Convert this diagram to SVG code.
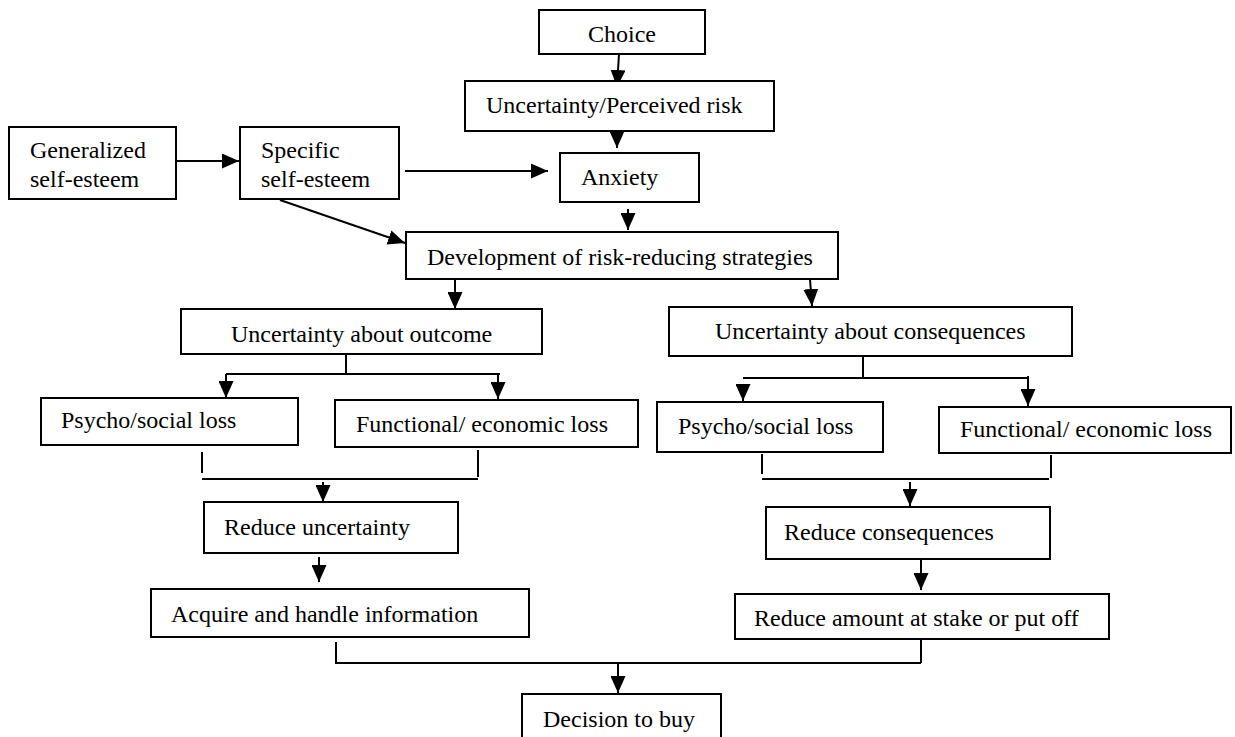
<svg xmlns="http://www.w3.org/2000/svg" width="1235" height="737" viewBox="0 0 1235 737">
<style>
.box{fill:#fff;stroke:#000;stroke-width:2}
.t{font-family:"Liberation Serif","Times New Roman",serif;font-size:24px;fill:#000}
.c{fill:none;stroke:#000;stroke-width:2}
.a{marker-end:url(#ah)}
</style>
<defs>
<marker id="ah" markerUnits="userSpaceOnUse" markerWidth="17" markerHeight="15" refX="17" refY="7.5" orient="auto">
<path d="M0,0 L17,7.5 L0,15 z" fill="#000"/>
</marker>
</defs>
<rect width="1235" height="737" fill="#fff"/>
<g id="connectors">
<line class="c a" x1="619" y1="54" x2="617" y2="87"/>
<line class="c a" x1="617" y1="131" x2="617" y2="148"/>
<line class="c a" x1="174" y1="161" x2="239" y2="161"/>
<line class="c a" x1="405" y1="171" x2="548" y2="171"/>
<line class="c a" x1="280" y1="200" x2="405" y2="243"/>
<line class="c a" x1="628" y1="209" x2="628" y2="230"/>
<line class="c a" x1="455" y1="279" x2="455" y2="309"/>
<line class="c a" x1="810" y1="279" x2="812" y2="306"/>
<polyline class="c" points="346,354 346,374"/>
<polyline class="c" points="226,374 500,374"/>
<line class="c a" x1="226" y1="374" x2="226" y2="398"/>
<line class="c a" x1="498" y1="374" x2="498" y2="399"/>
<polyline class="c" points="863,356 863,378"/>
<polyline class="c" points="743,378 1028,378"/>
<line class="c a" x1="743" y1="386" x2="743" y2="401"/>
<line class="c a" x1="1028" y1="376" x2="1028" y2="406"/>
<polyline class="c" points="202,452 202,473"/>
<polyline class="c" points="478,450 478,477"/>
<polyline class="c" points="202,479 478,479"/>
<line class="c a" x1="323" y1="482" x2="323" y2="502"/>
<polyline class="c" points="762,454 762,474"/>
<polyline class="c" points="1051,455 1051,478"/>
<polyline class="c" points="762,479 1049,479"/>
<line class="c a" x1="910" y1="482" x2="910" y2="506"/>
<line class="c a" x1="319" y1="557" x2="319" y2="582"/>
<line class="c a" x1="921" y1="559" x2="921" y2="590"/>
<polyline class="c" points="336,642 336,664"/>
<polyline class="c" points="921,639 921,663"/>
<polyline class="c" points="336,663 921,663"/>
<line class="c a" x1="618" y1="663" x2="618" y2="693"/>
</g>
<g id="choice"><rect class="box" x="539" y="10" width="166" height="44"/><text class="t" x="622" y="42" text-anchor="middle">Choice</text></g>
<g id="uncertainty"><rect class="box" x="465" y="81" width="309" height="50"/><text class="t" x="486" y="113">Uncertainty/Perceived risk</text></g>
<g id="generalized"><rect class="box" x="9" y="127" width="167" height="72"/><text class="t" x="30" y="158">Generalized</text><text class="t" x="30" y="187">self-esteem</text></g>
<g id="specific"><rect class="box" x="240" y="127" width="159" height="72"/><text class="t" x="261" y="158">Specific</text><text class="t" x="261" y="187">self-esteem</text></g>
<g id="anxiety"><rect class="box" x="560" y="153" width="139" height="49"/><text class="t" x="581" y="185">Anxiety</text></g>
<g id="development"><rect class="box" x="406" y="232" width="432" height="47"/><text class="t" x="427" y="265">Development of risk-reducing strategies</text></g>
<g id="outcome"><rect class="box" x="181" y="309" width="361" height="45"/><text class="t" x="231" y="342">Uncertainty about outcome</text></g>
<g id="consequences"><rect class="box" x="669" y="307" width="403" height="49"/><text class="t" x="715" y="339">Uncertainty about consequences</text></g>
<g id="psycho-left"><rect class="box" x="41" y="398" width="257" height="47"/><text class="t" x="61" y="428">Psycho/social loss</text></g>
<g id="functional-left"><rect class="box" x="335" y="400" width="303" height="47"/><text class="t" x="356" y="432">Functional/ economic loss</text></g>
<g id="psycho-right"><rect class="box" x="657" y="402" width="226" height="50"/><text class="t" x="678" y="434">Psycho/social loss</text></g>
<g id="functional-right"><rect class="box" x="939" y="407" width="292" height="46"/><text class="t" x="960" y="437">Functional/ economic loss</text></g>
<g id="reduce-uncertainty"><rect class="box" x="204" y="502" width="254" height="51"/><text class="t" x="224" y="535">Reduce uncertainty</text></g>
<g id="reduce-consequences"><rect class="box" x="766" y="507" width="284" height="52"/><text class="t" x="784" y="540">Reduce consequences</text></g>
<g id="acquire"><rect class="box" x="151" y="589" width="378" height="48"/><text class="t" x="171" y="622">Acquire and handle information</text></g>
<g id="reduce-amount"><rect class="box" x="735" y="594" width="374" height="45"/><text class="t" x="754" y="626">Reduce amount at stake or put off</text></g>
<g id="decision"><rect class="box" x="522" y="694" width="199" height="60"/><text class="t" x="543" y="727">Decision to buy</text></g>
</svg>
